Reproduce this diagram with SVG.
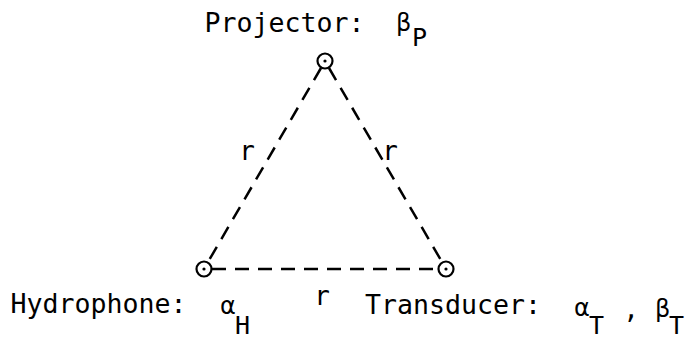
<svg xmlns="http://www.w3.org/2000/svg" width="691" height="341" viewBox="0 0 691 341">
<style>
.bg{fill:#ffffff}
.lbl{font-family:"DejaVu Sans Mono","Liberation Mono",monospace;font-size:26px;fill:#000}
.sub{font-family:"DejaVu Sans Mono","Liberation Mono",monospace;font-size:25px;fill:#000}
.gr{font-family:"DejaVu Sans","Liberation Sans",sans-serif;font-size:24px;fill:#000}
.ring{fill:#fff;stroke:#000;stroke-width:2.2}
.dot{fill:#000}
.edge{fill:none;stroke:#000;stroke-width:2.5;stroke-dasharray:14 9}
</style>
<rect class="bg" x="0" y="0" width="691" height="341"/>
<g id="connectors">
  <line class="edge" x1="321" y1="68" x2="208" y2="262"/>
  <line class="edge" x1="329" y1="68" x2="442" y2="262"/>
  <line class="edge" x1="212" y1="269" x2="438" y2="269"/>
  <text class="lbl" x="247" y="160" text-anchor="middle">r</text>
  <text class="lbl" x="390" y="160" text-anchor="middle">r</text>
  <text class="lbl" x="322" y="305" text-anchor="middle">r</text>
</g>
<g id="projector">
  <circle class="ring" cx="325" cy="61" r="7.5"/>
  <circle class="dot" cx="325" cy="61" r="1.6"/>
  <text class="lbl" x="204.5" y="32" textLength="160" lengthAdjust="spacingAndGlyphs">Projector:</text>
  <text class="gr" x="396" y="31">β</text>
  <text class="sub" x="412" y="46">P</text>
</g>
<g id="hydrophone">
  <circle class="ring" cx="204" cy="269" r="7.5"/>
  <circle class="dot" cx="204" cy="269" r="1.6"/>
  <text class="lbl" x="10.5" y="313" textLength="176" lengthAdjust="spacingAndGlyphs">Hydrophone:</text>
  <text class="gr" x="220" y="314">α</text>
  <text class="sub" x="235" y="334">H</text>
</g>
<g id="transducer">
  <circle class="ring" cx="446" cy="269" r="7.5"/>
  <circle class="dot" cx="446" cy="269" r="1.6"/>
  <text class="lbl" x="365" y="314" textLength="176" lengthAdjust="spacingAndGlyphs">Transducer:</text>
  <text class="gr" x="574" y="316">α</text>
  <text class="sub" x="589" y="334">T</text>
  <text class="lbl" x="631" y="318" text-anchor="middle">,</text>
  <text class="gr" x="655" y="317">β</text>
  <text class="sub" x="669" y="334">T</text>
</g>
</svg>
